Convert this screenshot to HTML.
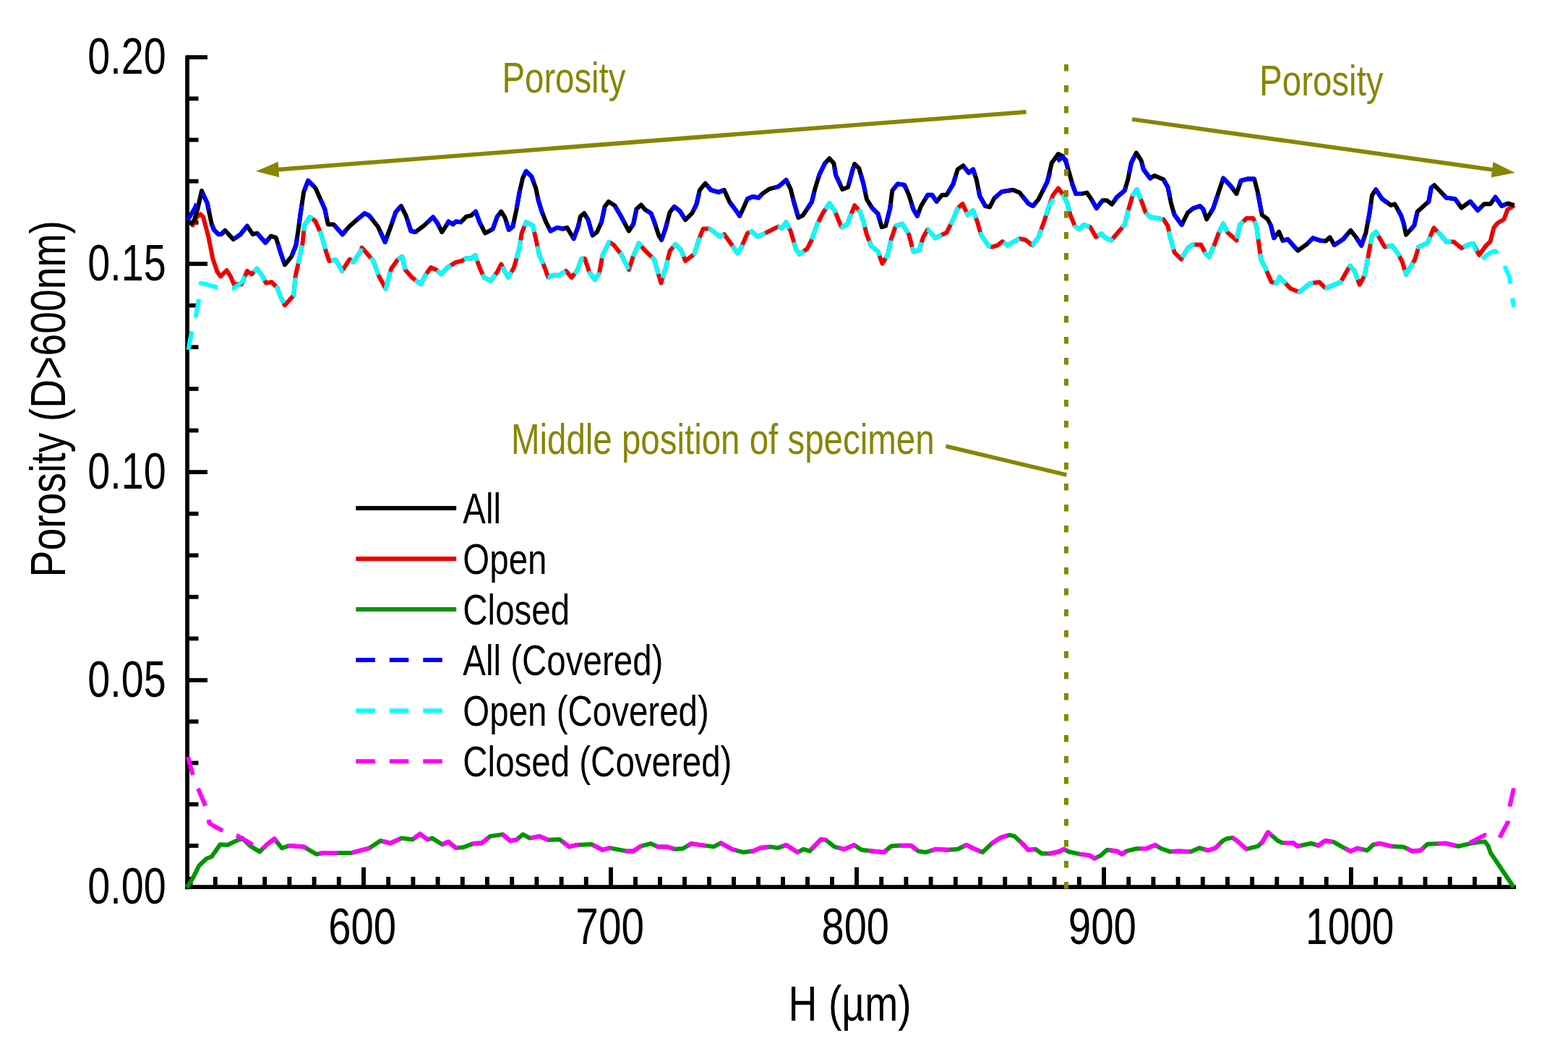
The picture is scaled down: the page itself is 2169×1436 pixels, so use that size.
<!DOCTYPE html>
<html><head><meta charset="utf-8"><title>Porosity chart</title><style>
html,body{margin:0;padding:0;background:#fff;width:2169px;height:1436px;overflow:hidden}
svg{display:block}
text{font-family:'Liberation Sans', Arial, sans-serif}
</style></head><body>
<svg width="2169" height="1436" viewBox="0 0 2169 1436">
<rect width="2169" height="1436" fill="#fff"/>
<g><line x1="259.05" y1="76.4" x2="259.05" y2="1230.3" stroke="#000" stroke-width="5.8"/><line x1="256.1" y1="1227.2" x2="2097" y2="1227.2" stroke="#000" stroke-width="5.8"/><line x1="259.05" y1="1170.0" x2="274.5" y2="1170.0" stroke="#000" stroke-width="5.8"/><line x1="259.05" y1="1112.7" x2="274.5" y2="1112.7" stroke="#000" stroke-width="5.8"/><line x1="259.05" y1="1055.5" x2="274.5" y2="1055.5" stroke="#000" stroke-width="5.8"/><line x1="259.05" y1="998.2" x2="274.5" y2="998.2" stroke="#000" stroke-width="5.8"/><line x1="259.05" y1="941.0" x2="287.0" y2="941.0" stroke="#000" stroke-width="5.8"/><line x1="259.05" y1="883.4" x2="274.5" y2="883.4" stroke="#000" stroke-width="5.8"/><line x1="259.05" y1="825.8" x2="274.5" y2="825.8" stroke="#000" stroke-width="5.8"/><line x1="259.05" y1="768.3" x2="274.5" y2="768.3" stroke="#000" stroke-width="5.8"/><line x1="259.05" y1="710.7" x2="274.5" y2="710.7" stroke="#000" stroke-width="5.8"/><line x1="259.05" y1="653.1" x2="287.0" y2="653.1" stroke="#000" stroke-width="5.8"/><line x1="259.05" y1="595.5" x2="274.5" y2="595.5" stroke="#000" stroke-width="5.8"/><line x1="259.05" y1="537.9" x2="274.5" y2="537.9" stroke="#000" stroke-width="5.8"/><line x1="259.05" y1="480.2" x2="274.5" y2="480.2" stroke="#000" stroke-width="5.8"/><line x1="259.05" y1="422.6" x2="274.5" y2="422.6" stroke="#000" stroke-width="5.8"/><line x1="259.05" y1="365.0" x2="287.0" y2="365.0" stroke="#000" stroke-width="5.8"/><line x1="259.05" y1="307.8" x2="274.5" y2="307.8" stroke="#000" stroke-width="5.8"/><line x1="259.05" y1="250.7" x2="274.5" y2="250.7" stroke="#000" stroke-width="5.8"/><line x1="259.05" y1="193.5" x2="274.5" y2="193.5" stroke="#000" stroke-width="5.8"/><line x1="259.05" y1="136.4" x2="274.5" y2="136.4" stroke="#000" stroke-width="5.8"/><line x1="259.05" y1="79.2" x2="287.0" y2="79.2" stroke="#000" stroke-width="5.8"/><line x1="263.6" y1="1227.2" x2="263.6" y2="1213.0" stroke="#000" stroke-width="5.9"/><line x1="297.8" y1="1227.2" x2="297.8" y2="1213.0" stroke="#000" stroke-width="5.9"/><line x1="332.0" y1="1227.2" x2="332.0" y2="1213.0" stroke="#000" stroke-width="5.9"/><line x1="366.2" y1="1227.2" x2="366.2" y2="1213.0" stroke="#000" stroke-width="5.9"/><line x1="400.4" y1="1227.2" x2="400.4" y2="1213.0" stroke="#000" stroke-width="5.9"/><line x1="434.6" y1="1227.2" x2="434.6" y2="1213.0" stroke="#000" stroke-width="5.9"/><line x1="468.8" y1="1227.2" x2="468.8" y2="1213.0" stroke="#000" stroke-width="5.9"/><line x1="503.0" y1="1227.2" x2="503.0" y2="1199.8" stroke="#000" stroke-width="5.9"/><line x1="537.2" y1="1227.2" x2="537.2" y2="1213.0" stroke="#000" stroke-width="5.9"/><line x1="571.4" y1="1227.2" x2="571.4" y2="1213.0" stroke="#000" stroke-width="5.9"/><line x1="605.6" y1="1227.2" x2="605.6" y2="1213.0" stroke="#000" stroke-width="5.9"/><line x1="639.8" y1="1227.2" x2="639.8" y2="1213.0" stroke="#000" stroke-width="5.9"/><line x1="674.0" y1="1227.2" x2="674.0" y2="1213.0" stroke="#000" stroke-width="5.9"/><line x1="708.2" y1="1227.2" x2="708.2" y2="1213.0" stroke="#000" stroke-width="5.9"/><line x1="742.4" y1="1227.2" x2="742.4" y2="1213.0" stroke="#000" stroke-width="5.9"/><line x1="776.6" y1="1227.2" x2="776.6" y2="1213.0" stroke="#000" stroke-width="5.9"/><line x1="810.8" y1="1227.2" x2="810.8" y2="1213.0" stroke="#000" stroke-width="5.9"/><line x1="845.0" y1="1227.2" x2="845.0" y2="1199.8" stroke="#000" stroke-width="5.9"/><line x1="879.0" y1="1227.2" x2="879.0" y2="1213.0" stroke="#000" stroke-width="5.9"/><line x1="913.0" y1="1227.2" x2="913.0" y2="1213.0" stroke="#000" stroke-width="5.9"/><line x1="947.0" y1="1227.2" x2="947.0" y2="1213.0" stroke="#000" stroke-width="5.9"/><line x1="981.0" y1="1227.2" x2="981.0" y2="1213.0" stroke="#000" stroke-width="5.9"/><line x1="1015.0" y1="1227.2" x2="1015.0" y2="1213.0" stroke="#000" stroke-width="5.9"/><line x1="1049.0" y1="1227.2" x2="1049.0" y2="1213.0" stroke="#000" stroke-width="5.9"/><line x1="1083.0" y1="1227.2" x2="1083.0" y2="1213.0" stroke="#000" stroke-width="5.9"/><line x1="1117.0" y1="1227.2" x2="1117.0" y2="1213.0" stroke="#000" stroke-width="5.9"/><line x1="1151.0" y1="1227.2" x2="1151.0" y2="1213.0" stroke="#000" stroke-width="5.9"/><line x1="1185.0" y1="1227.2" x2="1185.0" y2="1199.8" stroke="#000" stroke-width="5.9"/><line x1="1219.2" y1="1227.2" x2="1219.2" y2="1213.0" stroke="#000" stroke-width="5.9"/><line x1="1253.4" y1="1227.2" x2="1253.4" y2="1213.0" stroke="#000" stroke-width="5.9"/><line x1="1287.6" y1="1227.2" x2="1287.6" y2="1213.0" stroke="#000" stroke-width="5.9"/><line x1="1321.8" y1="1227.2" x2="1321.8" y2="1213.0" stroke="#000" stroke-width="5.9"/><line x1="1356.0" y1="1227.2" x2="1356.0" y2="1213.0" stroke="#000" stroke-width="5.9"/><line x1="1390.2" y1="1227.2" x2="1390.2" y2="1213.0" stroke="#000" stroke-width="5.9"/><line x1="1424.4" y1="1227.2" x2="1424.4" y2="1213.0" stroke="#000" stroke-width="5.9"/><line x1="1458.6" y1="1227.2" x2="1458.6" y2="1213.0" stroke="#000" stroke-width="5.9"/><line x1="1492.8" y1="1227.2" x2="1492.8" y2="1213.0" stroke="#000" stroke-width="5.9"/><line x1="1527.0" y1="1227.2" x2="1527.0" y2="1199.8" stroke="#000" stroke-width="5.9"/><line x1="1561.2" y1="1227.2" x2="1561.2" y2="1213.0" stroke="#000" stroke-width="5.9"/><line x1="1595.4" y1="1227.2" x2="1595.4" y2="1213.0" stroke="#000" stroke-width="5.9"/><line x1="1629.6" y1="1227.2" x2="1629.6" y2="1213.0" stroke="#000" stroke-width="5.9"/><line x1="1663.8" y1="1227.2" x2="1663.8" y2="1213.0" stroke="#000" stroke-width="5.9"/><line x1="1698.0" y1="1227.2" x2="1698.0" y2="1213.0" stroke="#000" stroke-width="5.9"/><line x1="1732.1" y1="1227.2" x2="1732.1" y2="1213.0" stroke="#000" stroke-width="5.9"/><line x1="1766.3" y1="1227.2" x2="1766.3" y2="1213.0" stroke="#000" stroke-width="5.9"/><line x1="1800.5" y1="1227.2" x2="1800.5" y2="1213.0" stroke="#000" stroke-width="5.9"/><line x1="1834.7" y1="1227.2" x2="1834.7" y2="1213.0" stroke="#000" stroke-width="5.9"/><line x1="1868.9" y1="1227.2" x2="1868.9" y2="1199.8" stroke="#000" stroke-width="5.9"/><line x1="1903.1" y1="1227.2" x2="1903.1" y2="1213.0" stroke="#000" stroke-width="5.9"/><line x1="1937.3" y1="1227.2" x2="1937.3" y2="1213.0" stroke="#000" stroke-width="5.9"/><line x1="1971.5" y1="1227.2" x2="1971.5" y2="1213.0" stroke="#000" stroke-width="5.9"/><line x1="2005.7" y1="1227.2" x2="2005.7" y2="1213.0" stroke="#000" stroke-width="5.9"/><line x1="2039.9" y1="1227.2" x2="2039.9" y2="1213.0" stroke="#000" stroke-width="5.9"/><line x1="2074.0" y1="1227.2" x2="2074.0" y2="1213.0" stroke="#000" stroke-width="5.9"/></g>
<text transform="translate(121.30,1249.90) scale(0.7950,1)" font-size="70.10" fill="#000">0.00</text>
<text transform="translate(121.30,963.70) scale(0.7950,1)" font-size="70.10" fill="#000">0.05</text>
<text transform="translate(121.30,675.80) scale(0.7950,1)" font-size="70.10" fill="#000">0.10</text>
<text transform="translate(121.30,387.70) scale(0.7950,1)" font-size="70.10" fill="#000">0.15</text>
<text transform="translate(121.30,101.90) scale(0.7950,1)" font-size="70.10" fill="#000">0.20</text>
<text transform="translate(454.18,1305.80) scale(0.8082,1)" font-size="69.70" fill="#000">600</text>
<text transform="translate(796.36,1305.80) scale(0.8136,1)" font-size="69.70" fill="#000">700</text>
<text transform="translate(1136.60,1305.80) scale(0.8027,1)" font-size="69.70" fill="#000">800</text>
<text transform="translate(1477.78,1305.80) scale(0.8100,1)" font-size="69.70" fill="#000">900</text>
<text transform="translate(1806.11,1305.80) scale(0.7877,1)" font-size="69.70" fill="#000">1000</text>
<text transform="translate(1090.60,1412.00) scale(0.8040,1)" font-size="68.80" fill="#000">H (µm)</text>
<text transform="translate(89.9,798.5) rotate(-90) scale(0.802,1)" font-size="69" fill="#000">Porosity (D&gt;600nm)</text>
<text transform="translate(694.60,127.70) scale(0.7930,1)" font-size="59.60" fill="#868600">Porosity</text>
<text transform="translate(1742.10,132.10) scale(0.7900,1)" font-size="60.10" fill="#868600">Porosity</text>
<text transform="translate(706.90,627.90) scale(0.7900,1)" font-size="60.10" fill="#868600">Middle position of specimen</text>
<line x1="1419.6" y1="154.8" x2="384" y2="234.6" stroke="#868600" stroke-width="5.8"/>
<polygon points="354.1,236.9 386.3,245.3 384.7,223.8" fill="#868600"/>
<line x1="1566.1" y1="165" x2="2066" y2="235" stroke="#868600" stroke-width="5.8"/>
<polygon points="2095.7,239.1 2062.5,245.4 2065.5,224" fill="#868600"/>
<line x1="1308.4" y1="617.3" x2="1475.4" y2="657" stroke="#868600" stroke-width="5.6"/>
<polyline points="258.5,1227.9 267.1,1214.2 275.6,1197.2 285.8,1187.8 292.6,1185.2 304.6,1168.2 314.8,1169.0 323.4,1164.8 335.3,1159.6 345.5,1169.9 359.2,1178.4 369.4,1168.2 379.6,1160.5 389.9,1173.3 400.1,1169.9 420.6,1171.6 437.6,1181.8 446.2,1180.1 485.4,1180.1 511.0,1173.3 526.4,1163.1 540.0,1166.5 555.4,1159.6 570.7,1161.4 581.0,1153.7 591.2,1161.4 598.0,1159.6 611.7,1168.2 620.2,1164.6 630.5,1173.1 640.7,1172.3 654.4,1167.1 666.3,1166.3 678.2,1156.9 695.3,1154.4 705.5,1162.9 714.1,1162.0 723.4,1154.4 732.8,1159.5 746.5,1156.9 758.4,1162.0 773.8,1161.2 787.4,1171.4 797.6,1168.9 818.1,1168.0 833.5,1175.7 843.7,1173.1 865.9,1177.4 876.1,1177.4 886.4,1170.6 900.0,1167.1 910.2,1171.4 922.2,1171.4 934.1,1174.8 944.4,1174.0 956.3,1167.1 968.2,1168.9 987.1,1171.4 997.3,1166.3 1012.6,1174.8 1028.0,1179.1 1041.6,1177.4 1051.9,1173.1 1065.5,1171.4 1075.8,1173.1 1087.7,1168.9 1103.1,1179.1 1111.6,1174.8 1120.1,1177.4 1135.5,1161.2 1142.3,1162.0 1154.2,1171.4 1167.9,1174.8 1181.5,1168.9 1191.8,1175.7 1207.1,1177.4 1222.5,1179.1 1232.7,1170.6 1242.9,1169.7 1260.0,1169.7 1270.2,1177.4 1280.5,1179.1 1294.1,1174.8 1311.2,1175.7 1324.8,1174.8 1336.8,1168.9 1347.1,1174.0 1359.0,1179.1 1372.6,1166.3 1384.6,1158.6 1396.5,1155.2 1403.4,1156.9 1415.3,1168.0 1422.1,1175.7 1432.4,1174.8 1440.9,1180.8 1452.8,1180.8 1464.8,1178.2 1471.6,1174.8 1478.4,1178.2 1493.8,1181.6 1507.4,1183.4 1514.2,1187.6 1522.8,1183.4 1531.3,1175.7 1544.9,1177.4 1551.8,1181.6 1558.6,1177.4 1572.2,1174.0 1585.9,1174.0 1597.8,1168.9 1606.4,1174.0 1618.3,1178.2 1630.2,1177.4 1647.3,1178.2 1659.2,1173.1 1671.2,1176.5 1681.4,1173.1 1691.7,1162.9 1697.7,1160.0 1705.5,1159.1 1713.2,1164.9 1723.9,1174.6 1740.3,1170.7 1746.2,1164.9 1753.9,1151.3 1767.5,1163.0 1773.3,1165.9 1788.8,1165.9 1794.6,1170.7 1813.9,1166.8 1823.6,1169.7 1833.3,1163.0 1844.9,1164.9 1858.5,1172.6 1868.2,1177.5 1877.8,1173.6 1891.4,1176.5 1899.1,1168.8 1908.8,1166.8 1924.3,1170.7 1941.7,1171.7 1953.4,1177.5 1965.0,1176.5 1974.7,1167.8 1999.8,1166.8 2017.3,1170.7 2034.7,1166.8 2046.3,1164.9 2054.0,1164.3 2058.5,1170.0 2062.0,1180.0 2093.8,1227.2" fill="none" stroke="#009600" stroke-width="6.0" stroke-linejoin="round" stroke-linecap="butt"/>
<polyline points="260.0,1047.0 264.0,1062.0 267.5,1074.0 272.0,1086.0 276.3,1096.3 285.6,1118.2 288.0,1129.0 289.5,1138.7 299.0,1144.5 309.5,1149.9 318.0,1153.0 328.0,1156.2 337.0,1161.0 346.5,1166.5 359.2,1178.4 369.4,1168.2 379.6,1160.5 389.9,1173.3 400.1,1169.9 420.6,1171.6 437.6,1181.8 446.2,1180.1 485.4,1180.1 511.0,1173.3 526.4,1163.1 540.0,1166.5 555.4,1159.6 570.7,1161.4 581.0,1153.7 591.2,1161.4 598.0,1159.6 611.7,1168.2 620.2,1164.6 630.5,1173.1 640.7,1172.3 654.4,1167.1 666.3,1166.3 678.2,1156.9 695.3,1154.4 705.5,1162.9 714.1,1162.0 723.4,1154.4 732.8,1159.5 746.5,1156.9 758.4,1162.0 773.8,1161.2 787.4,1171.4 797.6,1168.9 818.1,1168.0 833.5,1175.7 843.7,1173.1 865.9,1177.4 876.1,1177.4 886.4,1170.6 900.0,1167.1 910.2,1171.4 922.2,1171.4 934.1,1174.8 944.4,1174.0 956.3,1167.1 968.2,1168.9 987.1,1171.4 997.3,1166.3 1012.6,1174.8 1028.0,1179.1 1041.6,1177.4 1051.9,1173.1 1065.5,1171.4 1075.8,1173.1 1087.7,1168.9 1103.1,1179.1 1111.6,1174.8 1120.1,1177.4 1135.5,1161.2 1142.3,1162.0 1154.2,1171.4 1167.9,1174.8 1181.5,1168.9 1191.8,1175.7 1207.1,1177.4 1222.5,1179.1 1232.7,1170.6 1242.9,1169.7 1260.0,1169.7 1270.2,1177.4 1280.5,1179.1 1294.1,1174.8 1311.2,1175.7 1324.8,1174.8 1336.8,1168.9 1347.1,1174.0 1359.0,1179.1 1372.6,1166.3 1384.6,1158.6 1396.5,1155.2 1403.4,1156.9 1415.3,1168.0 1422.1,1175.7 1432.4,1174.8 1440.9,1180.8 1452.8,1180.8 1464.8,1178.2 1471.6,1174.8 1478.4,1178.2 1493.8,1181.6 1507.4,1183.4 1514.2,1187.6 1522.8,1183.4 1531.3,1175.7 1544.9,1177.4 1551.8,1181.6 1558.6,1177.4 1572.2,1174.0 1585.9,1174.0 1597.8,1168.9 1606.4,1174.0 1618.3,1178.2 1630.2,1177.4 1647.3,1178.2 1659.2,1173.1 1671.2,1176.5 1681.4,1173.1 1691.7,1162.9 1697.7,1160.0 1705.5,1159.1 1713.2,1164.9 1723.9,1174.6 1740.3,1170.7 1746.2,1164.9 1753.9,1151.3 1767.5,1163.0 1773.3,1165.9 1788.8,1165.9 1794.6,1170.7 1813.9,1166.8 1823.6,1169.7 1833.3,1163.0 1844.9,1164.9 1858.5,1172.6 1868.2,1177.5 1877.8,1173.6 1891.4,1176.5 1899.1,1168.8 1908.8,1166.8 1924.3,1170.7 1941.7,1171.7 1953.4,1177.5 1965.0,1176.5 1974.7,1167.8 1999.8,1166.8 2017.3,1170.7 2032.2,1166.6 2054.0,1155.1 2064.0,1158.0 2073.6,1160.2 2086.2,1136.7 2088.5,1114.8 2094.3,1089.0" fill="none" stroke="#ff00ff" stroke-width="6.0" stroke-linejoin="round" stroke-linecap="butt" stroke-dasharray="26 20"/>
<polyline points="262.8,308.0 266.7,311.3 272.3,300.2 277.3,296.3 281.2,300.2 284.0,311.3 288.3,327.3 294.4,357.9 300.6,376.3 305.2,382.4 313.6,374.0 319.0,382.4 323.6,393.2 334.3,393.2 341.9,374.8 348.1,379.4 355.7,371.7 363.4,382.4 368.0,391.6 375.6,390.1 383.3,397.8 387.9,410.0 394.0,422.3 406.3,408.5 408.6,382.4 414.0,357.9 418.6,336.5 420.9,311.9 428.5,300.4 436.2,305.8 443.8,322.7 450.7,347.2 455.3,361.0 464.5,359.4 473.0,374.8 483.7,358.7 489.0,362.5 498.2,348.7 500.5,342.6 516.6,361.0 524.3,382.4 533.5,399.3 541.1,371.7 550.0,359.4 556.1,354.8 560.7,373.2 569.9,383.9 582.2,393.1 588.3,380.8 596.0,370.1 603.6,373.2 610.5,379.3 619.0,370.1 629.7,363.2 638.9,360.9 645.0,357.1 651.1,357.8 657.3,353.2 663.4,370.1 669.5,383.9 678.7,388.5 687.9,376.2 693.3,365.5 698.6,376.2 703.2,383.9 710.9,370.1 714.0,359.4 718.6,342.5 721.6,322.6 727.8,307.3 737.0,311.9 741.5,331.8 746.1,353.2 752.3,367.0 758.4,383.9 764.5,380.8 773.7,380.8 782.9,374.7 790.6,383.9 798.2,374.7 804.4,357.8 809.0,357.8 815.1,376.2 822.8,386.9 828.9,377.8 833.5,353.2 842.7,334.8 848.8,338.7 859.2,351.7 869.9,373.2 875.3,356.3 883.7,336.4 891.4,345.6 899.0,353.2 905.2,359.4 909.8,376.2 914.4,391.5 920.5,371.6 926.6,347.1 934.3,337.9 941.9,345.6 948.1,360.9 960.3,351.7 966.5,331.8 972.6,316.5 981.8,316.5 995.6,327.2 1001.7,324.1 1009.4,334.8 1020.1,350.2 1024.7,344.0 1033.9,322.6 1040.0,320.3 1047.7,327.2 1055.3,324.1 1067.6,318.0 1076.8,313.4 1081.4,315.7 1087.5,307.3 1093.6,319.5 1101.3,345.6 1105.9,351.7 1116.6,344.0 1122.8,331.8 1130.4,310.3 1138.1,295.0 1147.3,281.2 1154.9,291.9 1163.8,314.1 1171.5,311.1 1177.6,295.7 1182.2,284.2 1189.8,292.7 1194.4,306.5 1199.0,324.8 1205.2,340.2 1214.4,347.8 1220.5,364.7 1228.1,352.4 1232.7,331.0 1238.9,312.6 1248.1,309.5 1257.3,324.8 1263.4,347.8 1271.1,346.3 1277.2,327.9 1283.3,317.2 1294.0,329.4 1303.2,324.8 1309.4,321.8 1318.6,303.4 1324.7,288.1 1331.6,281.9 1338.5,297.3 1346.1,291.1 1352.3,308.0 1356.9,324.8 1367.6,340.2 1372.2,341.7 1379.9,339.4 1386.7,334.0 1393.6,339.4 1410.5,330.2 1418.2,331.7 1428.1,339.4 1436.5,327.9 1444.2,306.5 1450.3,288.0 1456.5,270.0 1463.8,260.5 1469.9,268.1 1476.0,280.4 1480.6,297.3 1486.8,312.6 1492.9,317.2 1499.0,311.1 1508.2,314.1 1515.9,327.9 1523.6,323.3 1529.7,329.4 1537.3,332.5 1545.0,323.3 1555.7,311.1 1560.3,292.7 1566.5,271.2 1572.6,262.0 1578.7,277.3 1584.8,294.2 1591.0,300.3 1609.4,303.4 1615.5,312.6 1618.6,327.9 1624.7,349.4 1633.9,358.6 1643.1,343.2 1649.2,338.6 1661.5,338.6 1667.6,350.9 1672.2,355.5 1679.9,338.6 1686.0,321.8 1692.1,309.5 1698.2,321.8 1710.5,332.5 1715.1,311.1 1724.3,301.9 1733.5,301.9 1738.1,312.6 1741.1,335.6 1744.2,358.6 1750.3,370.8 1758.7,390.2 1765.7,392.0 1770.0,383.2 1784.8,398.9 1797.0,404.1 1812.7,392.0 1824.9,390.2 1833.6,398.9 1842.3,395.4 1854.5,390.2 1861.4,378.0 1867.5,367.6 1873.6,374.5 1880.6,393.7 1887.5,381.5 1892.8,353.6 1898.0,325.8 1903.2,320.6 1910.2,332.8 1915.4,341.5 1925.8,339.7 1934.5,351.9 1939.8,362.4 1945.0,379.8 1957.2,358.9 1962.4,341.5 1974.6,336.2 1983.3,315.3 1993.7,325.8 2000.7,334.5 2011.1,334.5 2021.6,343.2 2030.0,339.0 2037.9,337.0 2046.2,352.9 2054.5,341.0 2061.6,334.0 2066.3,315.0 2071.0,309.0 2080.5,303.2 2085.3,290.1 2094.7,284.0" fill="none" stroke="#ee0000" stroke-width="6.0" stroke-linejoin="round" stroke-linecap="butt"/>
<polyline points="260.5,484.0 263.0,470.0 266.0,456.0 271.0,437.0 275.5,411.0 277.5,392.0 285.0,393.0 292.5,395.5 307.0,399.0 323.0,399.0 330.0,394.0 336.0,389.0 341.9,374.8 348.1,379.4 355.7,371.7 363.4,382.4 368.0,391.6 375.6,390.1 383.3,397.8 387.9,410.0 394.0,422.3 406.3,408.5 408.6,382.4 414.0,357.9 418.6,336.5 420.9,311.9 428.5,300.4 436.2,305.8 443.8,322.7 450.7,347.2 455.3,361.0 464.5,359.4 473.0,374.8 483.7,358.7 489.0,362.5 498.2,348.7 500.5,342.6 516.6,361.0 524.3,382.4 533.5,399.3 541.1,371.7 550.0,359.4 556.1,354.8 560.7,373.2 569.9,383.9 582.2,393.1 588.3,380.8 596.0,370.1 603.6,373.2 610.5,379.3 619.0,370.1 629.7,363.2 638.9,360.9 645.0,357.1 651.1,357.8 657.3,353.2 663.4,370.1 669.5,383.9 678.7,388.5 687.9,376.2 693.3,365.5 698.6,376.2 703.2,383.9 710.9,370.1 714.0,359.4 718.6,342.5 721.6,322.6 727.8,307.3 737.0,311.9 741.5,331.8 746.1,353.2 752.3,367.0 758.4,383.9 764.5,380.8 773.7,380.8 782.9,374.7 790.6,383.9 798.2,374.7 804.4,357.8 809.0,357.8 815.1,376.2 822.8,386.9 828.9,377.8 833.5,353.2 842.7,334.8 848.8,338.7 859.2,351.7 869.9,373.2 875.3,356.3 883.7,336.4 891.4,345.6 899.0,353.2 905.2,359.4 909.8,376.2 914.4,391.5 920.5,371.6 926.6,347.1 934.3,337.9 941.9,345.6 948.1,360.9 960.3,351.7 966.5,331.8 972.6,316.5 981.8,316.5 995.6,327.2 1001.7,324.1 1009.4,334.8 1020.1,350.2 1024.7,344.0 1033.9,322.6 1040.0,320.3 1047.7,327.2 1055.3,324.1 1067.6,318.0 1076.8,313.4 1081.4,315.7 1087.5,307.3 1093.6,319.5 1101.3,345.6 1105.9,351.7 1116.6,344.0 1122.8,331.8 1130.4,310.3 1138.1,295.0 1147.3,281.2 1154.9,291.9 1163.8,314.1 1171.5,311.1 1177.6,295.7 1182.2,284.2 1189.8,292.7 1194.4,306.5 1199.0,324.8 1205.2,340.2 1214.4,347.8 1220.5,364.7 1228.1,352.4 1232.7,331.0 1238.9,312.6 1248.1,309.5 1257.3,324.8 1263.4,347.8 1271.1,346.3 1277.2,327.9 1283.3,317.2 1294.0,329.4 1303.2,324.8 1309.4,321.8 1318.6,303.4 1324.7,288.1 1331.6,281.9 1338.5,297.3 1346.1,291.1 1352.3,308.0 1356.9,324.8 1367.6,340.2 1372.2,341.7 1379.9,339.4 1386.7,334.0 1393.6,339.4 1410.5,330.2 1418.2,331.7 1428.1,339.4 1436.5,327.9 1444.2,306.5 1450.0,287.0 1457.0,275.0 1461.5,266.0 1464.5,264.5 1470.0,269.0 1476.0,280.4 1480.6,297.3 1486.8,312.6 1492.9,317.2 1499.0,311.1 1508.2,314.1 1515.9,327.9 1523.6,323.3 1529.7,329.4 1537.3,332.5 1545.0,323.3 1555.7,311.1 1560.3,292.7 1566.5,271.2 1572.6,262.0 1578.7,277.3 1584.8,294.2 1591.0,300.3 1609.4,303.4 1615.5,312.6 1618.6,327.9 1624.7,349.4 1633.9,358.6 1643.1,343.2 1649.2,338.6 1661.5,338.6 1667.6,350.9 1672.2,355.5 1679.9,338.6 1686.0,321.8 1692.1,309.5 1698.2,321.8 1710.5,332.5 1715.1,311.1 1724.3,301.9 1733.5,301.9 1738.1,312.6 1741.1,335.6 1744.2,358.6 1750.3,370.8 1758.7,390.2 1765.7,392.0 1770.0,383.2 1784.8,398.9 1797.0,404.1 1812.7,392.0 1824.9,390.2 1833.6,398.9 1842.3,395.4 1854.5,390.2 1861.4,378.0 1867.5,367.6 1873.6,374.5 1880.6,393.7 1887.5,381.5 1892.8,353.6 1898.0,325.8 1903.2,320.6 1910.2,332.8 1915.4,341.5 1925.8,339.7 1934.5,351.9 1939.8,362.4 1945.0,379.8 1957.2,358.9 1962.4,341.5 1974.6,336.2 1983.3,315.3 1993.7,325.8 2000.7,334.5 2011.1,334.5 2021.6,343.2 2030.0,339.0 2037.9,337.0 2047.4,361.8 2055.0,354.0 2063.9,348.2 2069.0,347.5 2077.6,360.0 2088.2,383.7 2090.6,405.0 2094.1,424.5" fill="none" stroke="#00ffff" stroke-width="6.0" stroke-linejoin="round" stroke-linecap="butt" stroke-dasharray="26 20"/>
<polyline points="262.8,311.0 268.4,305.7 273.4,289.0 279.0,264.0 286.8,281.3 290.6,299.7 292.9,310.4 296.0,318.0 302.1,324.2 306.0,324.0 311.3,318.8 322.8,331.1 332.7,324.2 341.9,312.7 349.6,324.2 355.7,322.7 367.2,335.7 374.9,326.5 381.8,328.8 387.9,348.7 394.0,366.3 403.2,354.8 409.4,339.5 412.4,319.6 415.5,296.6 420.1,266.0 426.2,249.9 436.2,259.8 449.2,289.0 453.8,310.4 461.5,310.4 473.7,324.2 482.9,313.5 495.2,302.7 504.4,295.1 510.5,298.1 522.8,313.5 532.7,334.9 541.1,311.9 547.3,293.6 554.9,285.1 561.5,298.1 568.4,319.5 574.5,321.1 586.8,311.9 599.0,300.4 605.2,308.8 611.3,321.1 617.4,311.9 620.5,306.5 626.6,310.3 630.4,306.5 637.3,307.3 645.0,299.6 651.9,298.1 658.0,292.7 663.4,307.3 671.1,322.6 677.2,319.5 681.8,316.5 687.9,299.6 693.3,292.7 698.6,301.1 704.0,318.0 709.4,313.4 714.0,291.9 718.6,265.9 723.2,246.0 727.8,236.8 735.4,244.4 741.5,261.3 744.6,276.6 749.2,291.9 755.3,307.3 761.5,319.5 770.7,314.9 778.3,316.5 784.4,314.9 793.6,330.2 799.8,313.4 802.8,299.6 808.2,295.0 813.6,304.2 819.7,325.7 825.8,321.1 832.0,307.3 836.6,285.8 841.9,278.9 850.3,284.3 859.2,299.6 869.9,319.5 876.0,310.3 880.6,288.9 886.8,283.5 892.9,290.4 900.6,295.0 905.2,307.3 911.3,325.7 915.1,331.8 920.5,316.5 926.6,293.5 932.7,285.8 940.4,291.9 948.1,304.2 957.3,295.0 963.4,282.7 968.0,262.8 975.6,253.6 983.3,262.8 994.0,265.9 1001.7,262.8 1009.4,279.7 1018.6,291.9 1023.2,298.8 1029.3,285.8 1033.9,275.1 1041.5,272.0 1049.2,273.6 1055.3,267.4 1064.5,261.3 1076.8,258.2 1087.5,249.0 1093.6,261.3 1098.2,279.7 1104.4,301.1 1110.5,298.1 1122.8,279.7 1127.4,261.3 1133.5,241.4 1141.1,226.0 1147.3,219.2 1153.4,226.0 1156.1,242.1 1165.3,262.0 1173.0,259.0 1179.1,236.0 1182.2,226.8 1188.3,232.9 1194.4,254.4 1199.0,275.8 1206.7,288.1 1214.4,295.7 1219.7,314.1 1225.1,312.6 1231.2,288.1 1234.3,263.6 1241.9,254.4 1251.1,255.9 1257.3,269.7 1263.4,289.6 1268.8,298.8 1274.1,285.0 1283.3,269.7 1289.4,269.7 1295.6,278.9 1303.2,269.7 1309.4,269.7 1318.6,254.4 1324.7,234.4 1332.3,229.1 1340.0,239.0 1346.1,234.4 1350.7,248.2 1355.3,271.2 1363.0,285.0 1369.1,286.5 1375.3,274.3 1386.0,265.1 1401.3,262.8 1410.5,266.6 1422.8,281.9 1428.9,285.0 1436.5,275.8 1448.8,251.3 1454.9,225.2 1463.8,213.0 1469.9,216.0 1474.5,223.7 1479.1,239.0 1483.7,255.9 1488.3,268.1 1496.0,268.1 1503.6,266.6 1509.8,275.8 1516.7,288.1 1525.1,277.3 1531.2,277.3 1538.1,282.7 1545.0,272.7 1555.7,263.6 1560.3,248.2 1564.9,225.2 1571.8,211.5 1578.7,222.2 1581.8,234.4 1591.0,246.7 1597.1,242.9 1609.4,248.2 1615.5,259.0 1620.1,281.9 1624.7,297.3 1634.6,311.1 1643.1,294.2 1650.7,288.1 1659.9,285.0 1664.5,289.6 1669.1,303.4 1678.3,288.1 1684.4,269.7 1692.1,246.7 1701.3,255.9 1710.5,268.1 1716.6,249.8 1725.8,247.5 1735.0,247.5 1739.6,265.1 1745.7,297.3 1753.4,303.0 1758.0,312.0 1762.2,329.3 1769.2,320.6 1774.4,332.8 1781.3,331.0 1795.3,346.7 1807.5,338.0 1816.2,329.3 1826.6,332.8 1833.6,333.6 1839.7,328.4 1845.8,338.9 1857.9,331.0 1868.4,318.8 1875.3,327.5 1883.2,339.7 1889.3,322.3 1894.5,294.5 1898.0,270.1 1903.2,262.2 1911.9,275.3 1924.1,284.0 1929.3,282.3 1938.0,297.9 1941.5,308.4 1945.0,324.9 1956.3,311.9 1960.7,292.7 1976.3,278.8 1979.8,259.6 1984.2,256.2 2000.7,273.6 2012.9,275.3 2021.6,287.5 2033.8,278.8 2044.2,291.0 2052.9,282.3 2061.6,282.3 2068.6,272.7 2077.3,284.9 2086.0,281.4 2094.7,284.0" fill="none" stroke="#000" stroke-width="6.0" stroke-linejoin="round" stroke-linecap="butt"/>
<polyline points="259.5,304.6 269.5,287.9 279.0,265.0 286.8,281.3 290.6,299.7 292.9,310.4 296.0,318.0 302.1,324.2 306.0,324.0 311.3,318.8 322.8,331.1 332.7,324.2 341.9,312.7 349.6,324.2 355.7,322.7 367.2,335.7 374.9,326.5 381.8,328.8 387.9,348.7 394.0,366.3 403.2,354.8 409.4,339.5 412.4,319.6 415.5,296.6 420.1,266.0 426.2,249.9 436.2,259.8 449.2,289.0 453.8,310.4 461.5,310.4 473.7,324.2 482.9,313.5 495.2,302.7 504.4,295.1 510.5,298.1 522.8,313.5 532.7,334.9 541.1,311.9 547.3,293.6 554.9,285.1 561.5,298.1 568.4,319.5 574.5,321.1 586.8,311.9 599.0,300.4 605.2,308.8 611.3,321.1 617.4,311.9 620.5,306.5 626.6,310.3 630.4,306.5 637.3,307.3 645.0,299.6 651.9,298.1 658.0,292.7 663.4,307.3 671.1,322.6 677.2,319.5 681.8,316.5 687.9,299.6 693.3,292.7 698.6,301.1 704.0,318.0 709.4,313.4 714.0,291.9 718.6,265.9 723.2,246.0 727.8,236.8 735.4,244.4 741.5,261.3 744.6,276.6 749.2,291.9 755.3,307.3 761.5,319.5 770.7,314.9 778.3,316.5 784.4,314.9 793.6,330.2 799.8,313.4 802.8,299.6 808.2,295.0 813.6,304.2 819.7,325.7 825.8,321.1 832.0,307.3 836.6,285.8 841.9,278.9 850.3,284.3 859.2,299.6 869.9,319.5 876.0,310.3 880.6,288.9 886.8,283.5 892.9,290.4 900.6,295.0 905.2,307.3 911.3,325.7 915.1,331.8 920.5,316.5 926.6,293.5 932.7,285.8 940.4,291.9 948.1,304.2 957.3,295.0 963.4,282.7 968.0,262.8 975.6,253.6 983.3,262.8 994.0,265.9 1001.7,262.8 1009.4,279.7 1018.6,291.9 1023.2,298.8 1029.3,285.8 1033.9,275.1 1041.5,272.0 1049.2,273.6 1055.3,267.4 1064.5,261.3 1076.8,258.2 1087.5,249.0 1093.6,261.3 1098.2,279.7 1104.4,301.1 1110.5,298.1 1122.8,279.7 1127.4,261.3 1133.5,241.4 1141.1,226.0 1147.3,219.2 1153.4,226.0 1156.1,242.1 1165.3,262.0 1173.0,259.0 1179.1,236.0 1182.2,226.8 1188.3,232.9 1194.4,254.4 1199.0,275.8 1206.7,288.1 1214.4,295.7 1219.7,314.1 1225.1,312.6 1231.2,288.1 1234.3,263.6 1241.9,254.4 1251.1,255.9 1257.3,269.7 1263.4,289.6 1268.8,298.8 1274.1,285.0 1283.3,269.7 1289.4,269.7 1295.6,278.9 1303.2,269.7 1309.4,269.7 1318.6,254.4 1324.7,234.4 1332.3,229.1 1340.0,239.0 1346.1,234.4 1350.7,248.2 1355.3,271.2 1363.0,285.0 1369.1,286.5 1375.3,274.3 1386.0,265.1 1401.3,262.8 1410.5,266.6 1422.8,281.9 1428.9,285.0 1436.5,275.8 1449.0,250.7 1452.5,239.0 1455.7,228.5 1462.3,222.9 1470.1,217.3 1474.5,221.5 1474.5,223.7 1479.1,239.0 1483.7,255.9 1488.3,268.1 1496.0,268.1 1503.6,266.6 1509.8,275.8 1516.7,288.1 1525.1,277.3 1531.2,277.3 1538.1,282.7 1545.0,272.7 1555.7,263.6 1560.3,248.2 1564.9,225.2 1571.8,211.5 1578.7,222.2 1581.8,234.4 1591.0,246.7 1597.1,242.9 1609.4,248.2 1615.5,259.0 1620.1,281.9 1624.7,297.3 1634.6,311.1 1643.1,294.2 1650.7,288.1 1659.9,285.0 1664.5,289.6 1669.1,303.4 1678.3,288.1 1684.4,269.7 1692.1,246.7 1701.3,255.9 1710.5,268.1 1716.6,249.8 1725.8,247.5 1735.0,247.5 1739.6,265.1 1745.7,297.3 1753.4,303.0 1758.0,312.0 1762.2,329.3 1769.2,320.6 1774.4,332.8 1781.3,331.0 1795.3,346.7 1807.5,338.0 1816.2,329.3 1826.6,332.8 1833.6,333.6 1839.7,328.4 1845.8,338.9 1857.9,331.0 1868.4,318.8 1875.3,327.5 1883.2,339.7 1889.3,322.3 1894.5,294.5 1898.0,270.1 1903.2,262.2 1911.9,275.3 1924.1,284.0 1929.3,282.3 1938.0,297.9 1941.5,308.4 1945.0,324.9 1956.3,311.9 1960.7,292.7 1976.3,278.8 1979.8,259.6 1984.2,256.2 2000.7,273.6 2012.9,275.3 2021.6,287.5 2033.8,278.8 2044.2,291.0 2052.9,282.3 2061.6,282.3 2068.6,272.7 2077.3,284.9 2086.0,281.4 2094.7,284.0" fill="none" stroke="#0000ff" stroke-width="6.0" stroke-linejoin="round" stroke-linecap="butt" stroke-dasharray="26 20"/>
<line x1="1474.9" y1="89" x2="1474.9" y2="1231" stroke="#868600" stroke-width="6" stroke-dasharray="9.6 19.4"/>
<line x1="492.3" y1="703.0" x2="631.2" y2="703.0" stroke="#000" stroke-width="6"/>
<text transform="translate(640.30,724.10) scale(0.8050,1)" font-size="59.00" fill="#000">All</text>
<line x1="492.3" y1="773.0" x2="631.2" y2="773.0" stroke="#ee0000" stroke-width="6"/>
<text transform="translate(640.30,794.15) scale(0.8050,1)" font-size="59.00" fill="#000">Open</text>
<line x1="492.3" y1="843.1" x2="631.2" y2="843.1" stroke="#009600" stroke-width="6"/>
<text transform="translate(640.30,864.20) scale(0.8050,1)" font-size="59.00" fill="#000">Closed</text>
<line x1="492.3" y1="913.1" x2="631.2" y2="913.1" stroke="#0000ff" stroke-width="6" stroke-dasharray="26.5 20"/>
<text transform="translate(640.30,934.25) scale(0.8050,1)" font-size="59.00" fill="#000">All (Covered)</text>
<line x1="492.3" y1="983.2" x2="631.2" y2="983.2" stroke="#00ffff" stroke-width="6" stroke-dasharray="26.5 20"/>
<text transform="translate(640.30,1004.30) scale(0.8050,1)" font-size="59.00" fill="#000">Open (Covered)</text>
<line x1="492.3" y1="1053.2" x2="631.2" y2="1053.2" stroke="#ff00ff" stroke-width="6" stroke-dasharray="26.5 20"/>
<text transform="translate(640.30,1074.35) scale(0.8050,1)" font-size="59.00" fill="#000">Closed (Covered)</text>
</svg></body></html>
